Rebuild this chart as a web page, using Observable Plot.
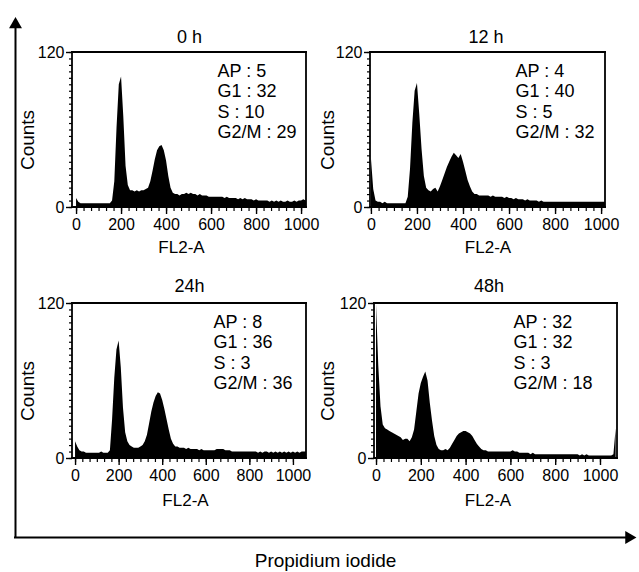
<!DOCTYPE html>
<html><head><meta charset="utf-8">
<script src="https://cdn.jsdelivr.net/npm/d3@7"></script>
<script src="https://cdn.jsdelivr.net/npm/@observablehq/plot@0.6"></script>
<style>
body{margin:0;background:#fff;}
#root{position:relative;width:639px;height:572px;overflow:hidden;background:#fff;}
#root svg{position:absolute;}
</style></head><body><div id="root"></div>
<script>
// histogram bins (channel, FL2-A)
const channels = d3.range(0, 1080, 10);
const counts0h = [
  7,4,3,3,3,3,3,3,3,3,
  3,3,3,3,3,3,5,20,62,95,
  101,70,32,17,13,13,12,13,12,13,
  13,14,15,20,28,37,44,47,48,44,
  36,24,15,11,10,10,9,10,10,11,
  10,11,10,10,9,10,9,9,9,8,
  8,8,8,8,8,8,7,8,7,7,
  7,7,6,7,6,7,6,6,6,5,
  6,5,5,5,5,5,4,5,4,5,
  4,5,4,4,5,4,4,5,4,5,
  5,6,5,5,5,5,5,5];
const counts12h = [
  38,14,5,4,4,3,4,3,3,3,
  3,3,3,3,3,3,8,30,65,90,
  96,72,45,24,15,13,12,14,15,12,
  16,21,26,31,35,39,42,40,38,41,
  35,28,21,16,12,10,10,9,9,9,
  9,9,8,9,8,8,8,8,7,8,
  7,7,6,7,6,6,6,5,6,5,
  5,5,5,4,5,4,4,4,4,4,
  4,4,4,4,4,4,4,4,4,4,
  4,4,4,4,4,4,4,4,4,4,
  4,4,4,4,4,4,4,4];
const counts24h = [
  13,9,6,5,5,4,4,4,4,4,
  4,4,5,4,4,4,6,30,62,84,
  91,70,39,20,13,10,9,8,8,8,
  9,10,13,18,27,36,43,48,51,50,
  45,38,30,22,15,11,9,9,8,8,
  8,7,8,7,7,7,7,6,7,6,
  6,6,6,6,6,7,7,7,7,6,
  6,6,5,5,5,5,5,5,5,5,
  5,5,5,5,4,5,4,5,5,4,
  5,4,5,4,5,4,5,4,5,4,
  5,4,5,4,5,5,5,5];
const counts48h = [
  119,72,40,26,23,22,21,20,19,18,
  17,16,14,15,15,13,16,22,36,50,
  58,63,67,60,43,29,17,10,7,6,
  6,7,6,8,11,14,17,19,20,21,
  21,20,19,17,14,11,9,7,6,6,
  5,5,5,5,5,5,5,5,5,5,
  5,6,5,5,4,4,4,4,4,3,
  4,3,3,3,3,3,3,3,3,3,
  3,3,3,3,3,3,3,3,3,3,
  3,2,3,2,3,2,2,2,2,2,
  2,2,2,2,2,2,3,23];

const titles = ["0 h", "12 h", "24h", "48h"];
const statLabels = ["AP", "G1", "S", "G2/M"];
const stats0h = [5, 32, 10, 29];
const stats12h = [4, 40, 5, 32];
const stats24h = [8, 36, 3, 36];
const stats48h = [32, 32, 3, 18];
const xTicks = [0, 200, 400, 600, 800, 1000];
const yTicks = [0, 120];
const xLabel = "FL2-A";
const yLabel = "Counts";
const outerLabel = "Propidium iodide";

const xMinor = d3.range(0, 1001, 200 / 6);
const yMinor = d3.range(0, 121, 5);
const font = "'Liberation Sans', Arial, Helvetica, sans-serif";
const root = document.getElementById("root");

// panel layouts
const panels = [
  {title: titles[0], counts: counts0h, stats: stats0h, left: 0, top: 0, width: 320, height: 262,
   ml: 72, mr: 14, mt: 52, mb: 55, xDomain: [-18, 1022],
   titleDy: -15, titleDx: 0, countsDx: -45, xlabDy: 40, xlabDx: -8, statDx: 145},
  {title: titles[1], counts: counts12h, stats: stats12h, left: 310, top: 0, width: 329, height: 262,
   ml: 60, mr: 34, mt: 52, mb: 55, xDomain: [-4, 1017],
   titleDy: -15, titleDx: -2, countsDx: -43, xlabDy: 40, xlabDx: 0, statDx: 145},
  {title: titles[2], counts: counts24h, stats: stats24h, left: 0, top: 262, width: 320, height: 260,
   ml: 72, mr: 14, mt: 41, mb: 64, xDomain: [-14, 1060],
   titleDy: -17, titleDx: 0, countsDx: -45, xlabDy: 42, xlabDx: -4, statDx: 141},
  {title: titles[3], counts: counts48h, stats: stats48h, left: 310, top: 262, width: 329, height: 260,
   ml: 64, mr: 22, mt: 41, mb: 64, xDomain: [-9, 1076],
   titleDy: -17, titleDx: -7, countsDx: -47, xlabDy: 42, xlabDx: -8, statDx: 139}
];
// frame boxes derived from the panel layouts
const boxes = panels.map(c => ({
  x1: c.left + c.ml, x2: c.left + c.width - c.mr,
  y1: c.top + c.mt, y2: c.top + c.height - c.mb
}));
const hw = 0.9; // half border width
// horizontal borders as filled bands (areaY), vertical borders as filled bands (areaX)
const bandsH = boxes.flatMap((b, i) => [
  {g: "t" + i, x: b.x1 - hw, y1: b.y1 - hw, y2: b.y1 + hw},
  {g: "t" + i, x: b.x2 + hw, y1: b.y1 - hw, y2: b.y1 + hw},
  {g: "b" + i, x: b.x1 - hw, y1: b.y2 - hw, y2: b.y2 + hw},
  {g: "b" + i, x: b.x2 + hw, y1: b.y2 - hw, y2: b.y2 + hw}
]);
const bandsV = boxes.flatMap((b, i) => [
  {g: "l" + i, y: b.y1 - hw, x1: b.x1 - hw, x2: b.x1 + hw},
  {g: "l" + i, y: b.y2 + hw, x1: b.x1 - hw, x2: b.x1 + hw},
  {g: "r" + i, y: b.y1 - hw, x1: b.x2 - hw, x2: b.x2 + hw},
  {g: "r" + i, y: b.y2 + hw, x1: b.x2 - hw, x2: b.x2 + hw}
]);

function panel(cfg) {
  const data = channels.map((c, i) => ({ch: c, n: cfg.counts[i]}));
  const statText = statLabels.map((l, i) => `${l} : ${cfg.stats[i]}`).join("\n");
  const p = Plot.plot({
    width: cfg.width, height: cfg.height,
    marginLeft: cfg.ml, marginRight: cfg.mr, marginTop: cfg.mt, marginBottom: cfg.mb,
    x: {domain: cfg.xDomain},
    y: {domain: [0, 120]},
    style: {background: "transparent", fontFamily: font},
    marks: [
      Plot.areaY(data, {x: "ch", y: "n", fill: "#000", clip: true}),
      Plot.axisX({ticks: xTicks, tickSize: 7, tickPadding: 4, fontSize: 16, label: null, stroke: "#000", fill: "#000", strokeWidth: 1.4, tickFormat: d => String(d)}),
      Plot.axisX({ticks: xMinor, tickSize: 4, tickFormat: () => "", label: null, stroke: "#000", strokeWidth: 1.2}),
      Plot.axisY({ticks: yTicks, tickSize: 6, tickPadding: 2, fontSize: 16, label: null, stroke: "#000", fill: "#000", strokeWidth: 1.4}),
      Plot.axisY({ticks: yMinor, tickSize: 3, tickFormat: () => "", label: null, stroke: "#000", strokeWidth: 1.2}),
      Plot.text([cfg.title], {frameAnchor: "top", textAnchor: "middle", lineAnchor: "middle", dy: cfg.titleDy, dx: cfg.titleDx, fontSize: 18, fill: "#000"}),
      Plot.text([yLabel], {frameAnchor: "left", textAnchor: "middle", lineAnchor: "middle", rotate: -90, dx: cfg.countsDx, dy: 10, fontSize: 19, fill: "#000"}),
      Plot.text([xLabel], {frameAnchor: "bottom", textAnchor: "middle", lineAnchor: "middle", dy: cfg.xlabDy, dx: cfg.xlabDx, fontSize: 17, fill: "#000"}),
      Plot.text([statText], {frameAnchor: "top-left", textAnchor: "start", lineAnchor: "top", dx: cfg.statDx, dy: 10, fontSize: 18, lineHeight: 1.13, fill: "#000"})
    ]
  });
  p.style.left = cfg.left + "px";
  p.style.top = cfg.top + "px";
  root.appendChild(p);
}

panels.forEach(panel);

// overlay: outer axes with arrows + panel frames (drawn on top)
const fg = Plot.plot({
  width: 639, height: 572, margin: 0,
  x: {domain: [0, 639], range: [0, 639], axis: null},
  y: {domain: [0, 572], range: [0, 572], axis: null},
  style: {background: "transparent", fontFamily: font, pointerEvents: "none"},
  marks: [
    Plot.ruleX([15], {y1: 22, y2: 537, stroke: "#000", strokeWidth: 2}),
    Plot.ruleY([537], {x1: 14, x2: 628, stroke: "#000", strokeWidth: 2}),
    Plot.areaY(bandsH, {x: "x", y1: "y1", y2: "y2", z: "g", fill: "#000", curve: "linear"}),
    Plot.areaX(bandsV, {y: "y", x1: "x1", x2: "x2", z: "g", fill: "#000", curve: "linear"}),
    Plot.dot([{x: 15, y: 24}], {x: "x", y: "y", symbol: "triangle", r: 4.8, fill: "#000", stroke: null}),
    Plot.dot([{x: 628.5, y: 537}], {x: "x", y: "y", symbol: "triangle", rotate: 90, r: 4.8, fill: "#000", stroke: null}),
    Plot.text([outerLabel], {x: () => 325, y: () => 560, fontSize: 19, textAnchor: "middle", lineAnchor: "middle", fill: "#000"})
  ]
});
fg.style.left = "0px"; fg.style.top = "0px";
root.appendChild(fg);
</script>
</body></html>
